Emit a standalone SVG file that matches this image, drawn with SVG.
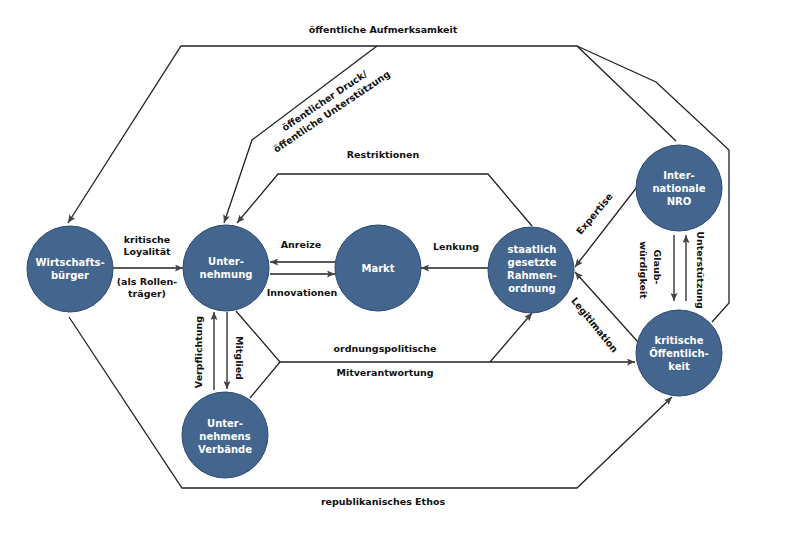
<svg xmlns="http://www.w3.org/2000/svg" width="800" height="533" viewBox="0 0 800 533">
<style>
.bg{fill:#ffffff}
.n circle{fill:#43658e;stroke:#2c4a70;stroke-width:1}
.n text{fill:#ffffff;font-family:"DejaVu Sans",sans-serif;font-weight:bold;font-size:10px;text-anchor:middle}
.c path{fill:none;stroke:#222;stroke-width:1.3}
.c .a{marker-end:url(#ah)}
.g{stroke:#444}
.lbl{fill:#111;font-family:"DejaVu Sans",sans-serif;font-weight:bold;font-size:9.5px;text-anchor:middle}
</style>
<defs>
<marker id="ah" markerUnits="userSpaceOnUse" markerWidth="9" markerHeight="7" refX="8" refY="3.5" orient="auto">
<path d="M0,0 L8,3.5 L0,7 L1.5,3.5 z" fill="#444"/>
</marker>
</defs>
<rect class="bg" x="0" y="0" width="800" height="533"/>
<g id="connectors" class="c">
<path class="a" d="M676,141 L577,46 L181,46 L68,223"/>
<path d="M712,322 L729,303 L729,150 L656,82 L577,46"/>
<path class="a" d="M377,46 L252,140 L224,223"/>
<path class="a" d="M532,226 L488,174 L278,174 L237,223"/>
<path class="a" d="M113,268 L183,268"/>
<path class="a g" d="M335,262 L270,262"/>
<path class="a g" d="M270,274 L335,274"/>
<path class="a" d="M489,268 L421,268"/>
<path class="a" d="M637,187 L575,267"/>
<path class="a" d="M638,342 L575,272"/>
<path class="a g" d="M674,235 L674,301"/>
<path class="a g" d="M686,301 L686,235"/>
<path class="a" d="M214,390 L214,312"/>
<path class="a" d="M227,312 L227,389"/>
<path d="M236,311 L280,362 L250,398"/>
<path class="a" d="M280,362 L635,362"/>
<path class="a" d="M490,362 L532,313"/>
<path class="a" d="M69,317 L182,488 L577,488 L672,397"/>
</g>
<g id="labels">
<text class="lbl" x="383" y="33">öffentliche Aufmerksamkeit</text>
<g transform="translate(328,106) rotate(-34)">
<text class="lbl" x="0" y="-3">öffentlicher Druck/</text>
<text class="lbl" x="0" y="10">öffentliche Unterstützung</text>
</g>
<text class="lbl" x="383" y="158">Restriktionen</text>
<text class="lbl" x="147" y="243">kritische</text>
<text class="lbl" x="147" y="255">Loyalität</text>
<text class="lbl" x="147" y="285">(als Rollen-</text>
<text class="lbl" x="147" y="297">träger)</text>
<text class="lbl" x="301" y="248">Anreize</text>
<text class="lbl" x="302" y="296">Innovationen</text>
<text class="lbl" x="456" y="250">Lenkung</text>
<text class="lbl" transform="translate(597,216) rotate(-50)" x="0" y="0">Expertise</text>
<text class="lbl" transform="translate(592,327) rotate(51)" x="0" y="0">Legitimation</text>
<text class="lbl" transform="translate(654,267) rotate(90)" x="0" y="0">Glaub-</text>
<text class="lbl" transform="translate(640,270) rotate(90)" x="0" y="0">würdigkeit</text>
<text class="lbl" transform="translate(697,270) rotate(90)" x="0" y="0">Unterstützung</text>
<text class="lbl" transform="translate(202,352) rotate(-90)" x="0" y="0">Verpflichtung</text>
<text class="lbl" transform="translate(236,358) rotate(90)" x="0" y="0">Mitglied</text>
<text class="lbl" x="385" y="352">ordnungspolitische</text>
<text class="lbl" x="385" y="376">Mitverantwortung</text>
<text class="lbl" x="383" y="505">republikanisches Ethos</text>
</g>
<g id="wirtschaftsbuerger" class="n">
<circle cx="70" cy="269" r="43"/>
<text x="70" y="266">Wirtschafts-</text>
<text x="70" y="279">bürger</text>
</g>
<g id="unternehmung" class="n">
<circle cx="226" cy="268" r="43"/>
<text x="226" y="265">Unter-</text>
<text x="226" y="278">nehmung</text>
</g>
<g id="markt" class="n">
<circle cx="378" cy="268" r="43"/>
<text x="378" y="272">Markt</text>
</g>
<g id="rahmenordnung" class="n">
<circle cx="531" cy="270" r="43"/>
<text x="532" y="253">staatlich</text>
<text x="532" y="266">gesetzte</text>
<text x="532" y="279">Rahmen-</text>
<text x="532" y="292">ordnung</text>
</g>
<g id="nro" class="n">
<circle cx="679" cy="188" r="43"/>
<text x="679" y="179">Inter-</text>
<text x="679" y="192">nationale</text>
<text x="679" y="205">NRO</text>
</g>
<g id="oeffentlichkeit" class="n">
<circle cx="679" cy="353" r="43"/>
<text x="679" y="344">kritische</text>
<text x="679" y="357">Öffentlich-</text>
<text x="679" y="370">keit</text>
</g>
<g id="verbaende" class="n">
<circle cx="225" cy="435" r="43"/>
<text x="225" y="427">Unter-</text>
<text x="225" y="440">nehmens</text>
<text x="225" y="453">Verbände</text>
</g>
</svg>
